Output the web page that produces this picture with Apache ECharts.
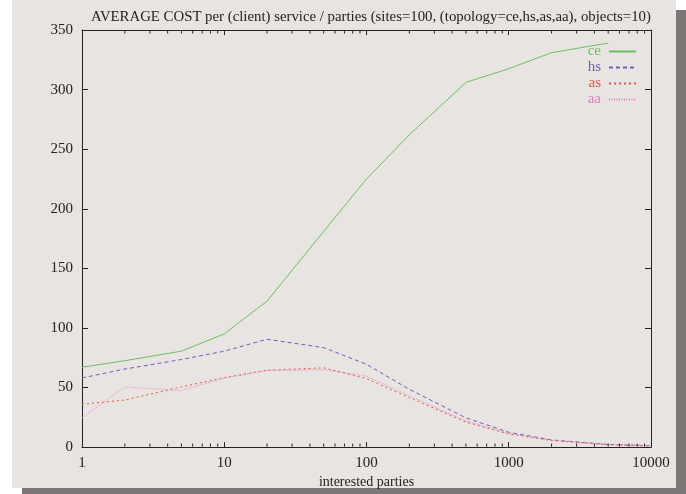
<!DOCTYPE html>
<html>
<head>
<meta charset="utf-8">
<script src="https://cdn.jsdelivr.net/npm/echarts@6/dist/echarts.min.js"></script>
<style>
  body { margin: 0; background: #ffffff; }
  #shadow { position: absolute; left: 22px; top: 10px; width: 664px; height: 488px; background: #7d7676; }
  #paper { position: absolute; left: 12px; top: 0; width: 664px; height: 488px; background: #e8e4e1; }
  #main { position: absolute; left: 0; top: 0; width: 686px; height: 494px; }
</style>
</head>
<body>
<div id="shadow"></div>
<div id="paper"></div>
<div id="main"></div>
<script>
// interested parties (x, log scale)
const parties = [1, 2, 5, 10, 20, 50, 100, 200, 500, 1000, 2000, 5000, 10000]
const ce = [67, 72.5, 80.5, 95, 122.5, 181, 225, 262, 306, 317.5, 331, 339]
const hs = [58, 65.5, 73.5, 80.5, 90.5, 83.5, 69.5, 48.5, 24.5, 12.5, 6, 2.2, 1.1]
const as = [36, 39.5, 50.5, 58.3, 64.5, 66.5, 57.5, 41.5, 21, 11, 5.5, 2, 1]
const aa = [24.5, 50.5, 47.5, 58, 64.3, 65, 59.5, 43, 22, 11.5, 5.8, 2.3, 1.2]

const colors = { ce: '#6cbf64', hs: '#7060bb', as: '#ee5240', aa: '#dd80c0' }
const serif = 'Liberation Serif'
const ink = '#222'

// minor ticks of the log axis: 2..9 in every decade
const minorTicks = []
for (let d = 1; d < 10000; d *= 10) {
  for (let k = 2; k <= 9; k++) minorTicks.push(k * d)
}

const pairs = (ys) => ys.map((y, i) => [parties[i], y])

const chart = echarts.init(document.getElementById('main'), null, { renderer: 'canvas' })

const lineSeries = (name, ys, type) => ({
  name: name,
  type: 'line',
  data: pairs(ys),
  symbol: 'none',
  animation: false,
  lineStyle: { color: colors[name], width: 1, type: type },
  itemStyle: { color: colors[name] }
})

const option = {
  backgroundColor: 'transparent',
  animation: false,
  title: {
    text: 'AVERAGE COST per (client) service / parties (sites=100, (topology=ce,hs,as,aa), objects=10)',
    left: 366, top: 5, textAlign: 'center',
    textStyle: { fontFamily: serif, fontSize: 14.8, fontWeight: 'normal', color: ink }
  },
  legend: {
    orient: 'vertical', right: 49, top: 44, align: 'right', padding: 0,
    itemWidth: 27, itemHeight: 14, itemGap: 1,
    itemStyle: { opacity: 0 },
    textStyle: { fontFamily: serif, fontSize: 15, lineHeight: 14, padding: [0, 3, 0, 0] },
    data: ['ce', 'hs', 'as', 'aa'].map(n => ({ name: n, textStyle: { color: colors[n] } }))
  },
  grid: { left: 82, right: 35, top: 30, bottom: 44 },
  xAxis: [{
    type: 'log', min: 1, max: 10000, logBase: 10,
    name: 'interested parties', nameLocation: 'middle', nameGap: 23,
    nameTextStyle: { fontFamily: serif, fontSize: 14, color: ink },
    axisLine: { show: true, onZero: false, lineStyle: { color: ink } },
    axisTick: { show: true, inside: true, length: 5, lineStyle: { color: ink } },
    axisLabel: { fontFamily: serif, fontSize: 15, color: ink, margin: 8, formatter: v => String(v) },
    splitLine: { show: false }
  }, {
    type: 'log', min: 1, max: 10000, logBase: 10, position: 'top',
    axisLine: { show: true, onZero: false, lineStyle: { color: ink } },
    axisTick: { show: true, inside: true, length: 5, lineStyle: { color: ink } },
    axisLabel: { show: false },
    splitLine: { show: false }
  }],
  yAxis: [{
    type: 'value', min: 0, max: 350, interval: 50,
    axisLine: { show: true, onZero: false, lineStyle: { color: ink } },
    axisTick: { inside: true, length: 6, lineStyle: { color: ink } },
    axisLabel: { fontFamily: serif, fontSize: 15, color: ink, margin: 9 },
    splitLine: { show: false }
  }, {
    type: 'value', min: 0, max: 350, interval: 50, position: 'right',
    axisLine: { show: true, onZero: false, lineStyle: { color: ink } },
    axisTick: { inside: true, length: 6, lineStyle: { color: ink } },
    axisLabel: { show: false },
    splitLine: { show: false }
  }],
  series: [
    lineSeries('ce', ce, 'solid'),
    lineSeries('hs', hs, [4, 3]),
    lineSeries('as', as, [2, 3]),
    lineSeries('aa', aa, [1, 1.5]),
    {
      type: 'custom',
      silent: true,
      clip: false,
      z: 5,
      data: minorTicks.map(v => [v, 175]),
      renderItem: function (params, api) {
        const bottom = api.coord([api.value(0), 0])
        const top = api.coord([api.value(0), 350])
        return {
          type: 'group',
          children: [
            { type: 'line', shape: { x1: bottom[0], y1: bottom[1] - 0.5, x2: bottom[0], y2: bottom[1] - 3.5 }, style: { stroke: ink, lineWidth: 1 } },
            { type: 'line', shape: { x1: top[0], y1: top[1] + 0.5, x2: top[0], y2: top[1] + 3.5 }, style: { stroke: ink, lineWidth: 1 } }
          ]
        }
      }
    }
  ]
}

chart.setOption(option)
</script>
</body>
</html>
